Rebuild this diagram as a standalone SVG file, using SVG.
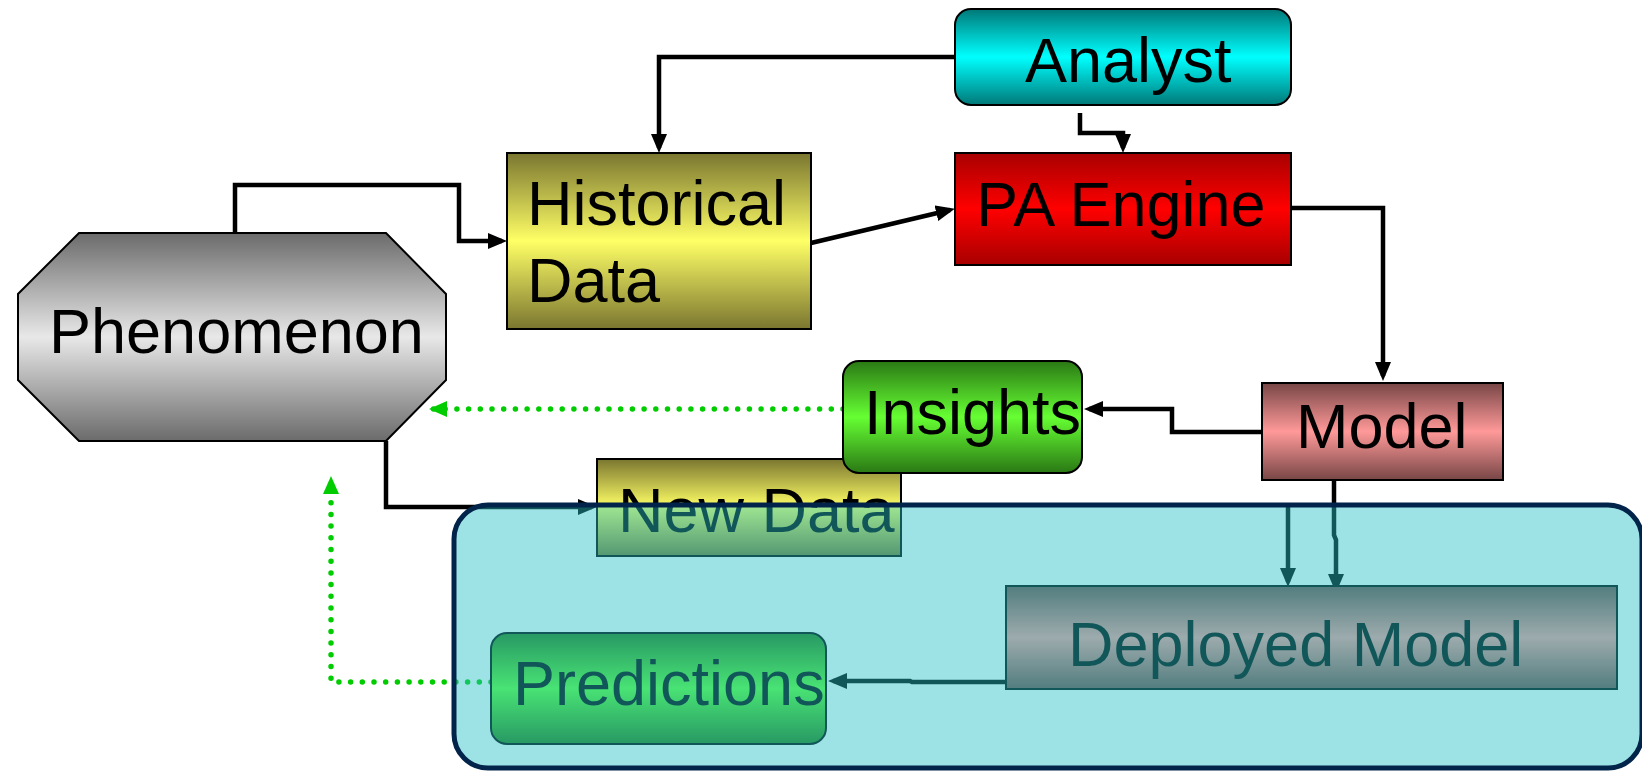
<svg xmlns="http://www.w3.org/2000/svg" width="1642" height="771" viewBox="0 0 1642 771">
  <defs>
    <!-- vertical dark-light-dark fills -->
    <linearGradient id="gGray" x1="0" y1="0" x2="0" y2="1">
      <stop offset="0" stop-color="#6b6b6b"/><stop offset="0.5" stop-color="#e8e8e8"/><stop offset="1" stop-color="#6b6b6b"/>
    </linearGradient>
    <linearGradient id="gCyan" x1="0" y1="0" x2="0" y2="1">
      <stop offset="0" stop-color="#007878"/><stop offset="0.5" stop-color="#00ffff"/><stop offset="1" stop-color="#007878"/>
    </linearGradient>
    <linearGradient id="gYellow" x1="0" y1="0" x2="0" y2="1">
      <stop offset="0" stop-color="#7a7630"/><stop offset="0.5" stop-color="#ffff66"/><stop offset="1" stop-color="#7a7630"/>
    </linearGradient>
    <linearGradient id="gRed" x1="0" y1="0" x2="0" y2="1">
      <stop offset="0" stop-color="#a80000"/><stop offset="0.5" stop-color="#ff0000"/><stop offset="1" stop-color="#a80000"/>
    </linearGradient>
    <linearGradient id="gPink" x1="0" y1="0" x2="0" y2="1">
      <stop offset="0" stop-color="#784646"/><stop offset="0.5" stop-color="#ff9999"/><stop offset="1" stop-color="#784646"/>
    </linearGradient>
    <linearGradient id="gGreen" x1="0" y1="0" x2="0" y2="1">
      <stop offset="0" stop-color="#2a7814"/><stop offset="0.5" stop-color="#66ff33"/><stop offset="1" stop-color="#2a7814"/>
    </linearGradient>
    <marker id="arrow" viewBox="0 0 19 16" markerWidth="19" markerHeight="16" refX="14" refY="8" orient="auto" markerUnits="userSpaceOnUse">
      <path d="M0,0 L19,8 L0,16 Z" fill="#000"/>
    </marker>
    <marker id="arrowGreen" viewBox="0 0 18 16" markerWidth="18" markerHeight="16" refX="14" refY="8" orient="auto" markerUnits="userSpaceOnUse">
      <path d="M0,0 L18,8 L0,16 Z" fill="#00cc00"/>
    </marker>
  </defs>
  <style>
    .box { stroke: #000; stroke-width: 2; }
    .label { font-family: "Liberation Sans", Arial, sans-serif; font-size: 63px; fill: #000; }
    .link { fill: none; stroke: #000; stroke-width: 4.5; marker-end: url(#arrow); }
    .dotted { fill: none; stroke: #00cc00; stroke-width: 5.5; stroke-linecap: round; stroke-dasharray: 0 11.7; marker-end: url(#arrowGreen); }
  </style>

  <!-- connectors -->
  <g id="connectors">
    <path class="link" d="M235,233 V185 H459 V241 H502"/>
    <path class="link" d="M955,57 H659 V148"/>
    <path class="link" d="M1080,113 V133 H1123 V148"/>
    <path class="link" d="M811,243 L950,210"/>
    <path class="link" d="M1291,208 H1383 V376"/>
    <path class="link" d="M1262,432 H1172 V409 H1089"/>
    <path class="link" d="M386,441 V507 H592"/>
    <path class="link" d="M1334,480 V535 L1336,540 V588"/>
    <path class="link" d="M1288,505 V582"/>
    <path class="link" d="M1006,682 H912 L910,681 H833"/>
    <path class="dotted" d="M843,409 H433"/>
    <path class="dotted" d="M491,682 H331 V480"/>
  </g>

  <g id="phenomenon">
    <polygon class="box" fill="url(#gGray)" points="79,233 386,233 446,294 446,380 386,441 79,441 18,380 18,294"/>
    <text class="label" x="49" y="353" font-size="64.5">Phenomenon</text>
  </g>

  <g id="historical-data">
    <rect class="box" x="507" y="153" width="304" height="176" fill="url(#gYellow)"/>
    <text class="label" x="527" y="225">Historical</text>
    <text class="label" x="527" y="302">Data</text>
  </g>

  <g id="analyst">
    <rect class="box" x="955" y="9" width="336" height="96" rx="16" fill="url(#gCyan)"/>
    <text class="label" x="1025" y="82">Analyst</text>
  </g>

  <g id="pa-engine">
    <rect class="box" x="955" y="153" width="336" height="112" fill="url(#gRed)"/>
    <text class="label" x="976" y="226">PA Engine</text>
  </g>

  <g id="model">
    <rect class="box" x="1262" y="383" width="241" height="97" fill="url(#gPink)"/>
    <text class="label" x="1296" y="448">Model</text>
  </g>

  <g id="new-data">
    <rect class="box" x="597" y="459" width="304" height="97" fill="url(#gYellow)"/>
    <text class="label" x="618" y="532">New Data</text>
  </g>

  <g id="insights">
    <rect class="box" x="843" y="361" width="239" height="112" rx="16" fill="url(#gGreen)"/>
    <text class="label" x="864" y="434">Insights</text>
  </g>

  <g id="deployed-model">
    <rect class="box" x="1006" y="586" width="611" height="103" fill="url(#gPink)"/>
    <text class="label" x="1068" y="666" font-size="64">Deployed Model</text>
  </g>

  <g id="predictions">
    <rect class="box" x="491" y="633" width="335" height="111" rx="16" fill="url(#gGreen)"/>
    <text class="label" x="513" y="705">Predictions</text>
  </g>

  <!-- deployment zone: translucent panel laid over the lower nodes -->
  <g id="deployment-zone">
    <rect x="454" y="505" width="1188" height="263" rx="34" fill="#26c1c6" fill-opacity="0.45" stroke="#03244a" stroke-width="5"/>
  </g>
</svg>
